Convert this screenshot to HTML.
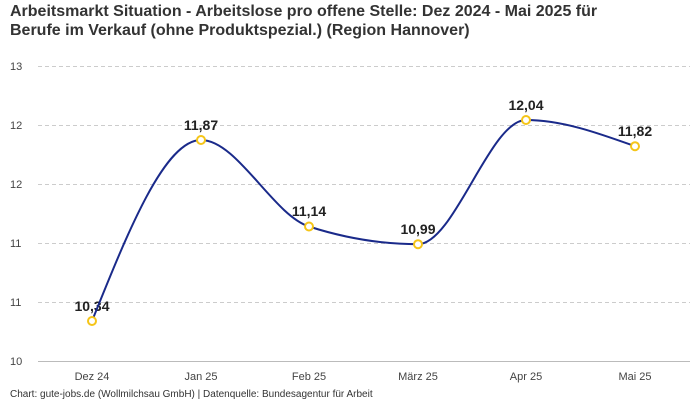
<!DOCTYPE html>
<html><head><meta charset="utf-8"><style>
body{margin:0;background:#fff;}
svg{display:block;font-family:"Liberation Sans",sans-serif;}
</style></head><body>
<svg width="700" height="400" viewBox="0 0 700 400" xmlns="http://www.w3.org/2000/svg">
<text x="10" y="16" font-size="16" font-weight="bold" fill="#333">Arbeitsmarkt Situation - Arbeitslose pro offene Stelle: Dez 2024 - Mai 2025 für</text>
<text x="10" y="35" font-size="16" font-weight="bold" fill="#333">Berufe im Verkauf (ohne Produktspezial.) (Region Hannover)</text>
<g stroke="#ccc" stroke-dasharray="4,3" stroke-width="1">
<line x1="38" x2="690" y1="66.5" y2="66.5"/>
<line x1="38" x2="690" y1="125.5" y2="125.5"/>
<line x1="38" x2="690" y1="184.5" y2="184.5"/>
<line x1="38" x2="690" y1="243.5" y2="243.5"/>
<line x1="38" x2="690" y1="302.5" y2="302.5"/>
</g>
<line x1="38" x2="690" y1="361.5" y2="361.5" stroke="#bbb"/>
<g font-size="11" fill="#444">
<text x="10" y="70">13</text><text x="10" y="129">12</text><text x="10" y="188">12</text>
<text x="10" y="247">11</text><text x="10" y="306">11</text><text x="10" y="365">10</text>
</g>
<g font-size="11" fill="#444" text-anchor="middle">
<text x="92" y="380">Dez 24</text><text x="201" y="380">Jan 25</text><text x="309" y="380">Feb 25</text>
<text x="418" y="380">März 25</text><text x="526" y="380">Apr 25</text><text x="635" y="380">Mai 25</text>
</g>
<g font-size="14" font-weight="bold" fill="#222" text-anchor="middle">
<text x="92" y="311">10,34</text><text x="201" y="130">11,87</text><text x="309" y="216">11,14</text>
<text x="418" y="234">10,99</text><text x="526" y="110">12,04</text><text x="635" y="136">11,82</text>
</g>
<path d="M92,321 C128.2,230.9 164.8,140 201,140 C237,140 273,214.8 309,226.5 C345.3,238.2 381.7,244.2 418,244.2 C454,244.2 490,120 526,120 C562.3,120 598.7,133.2 635,146.2" fill="none" stroke="#1a2a8a" stroke-width="2"/>
<g fill="#fff" stroke="#f5c518" stroke-width="2">
<circle cx="92" cy="321" r="4"/><circle cx="201" cy="140" r="4"/><circle cx="309" cy="226.5" r="4"/>
<circle cx="418" cy="244.2" r="4"/><circle cx="526" cy="120" r="4"/><circle cx="635" cy="146.2" r="4"/>
</g>
<text x="10" y="397" font-size="10" fill="#333">Chart: gute-jobs.de (Wollmilchsau GmbH) | Datenquelle: Bundesagentur für Arbeit</text>
</svg>
</body></html>
